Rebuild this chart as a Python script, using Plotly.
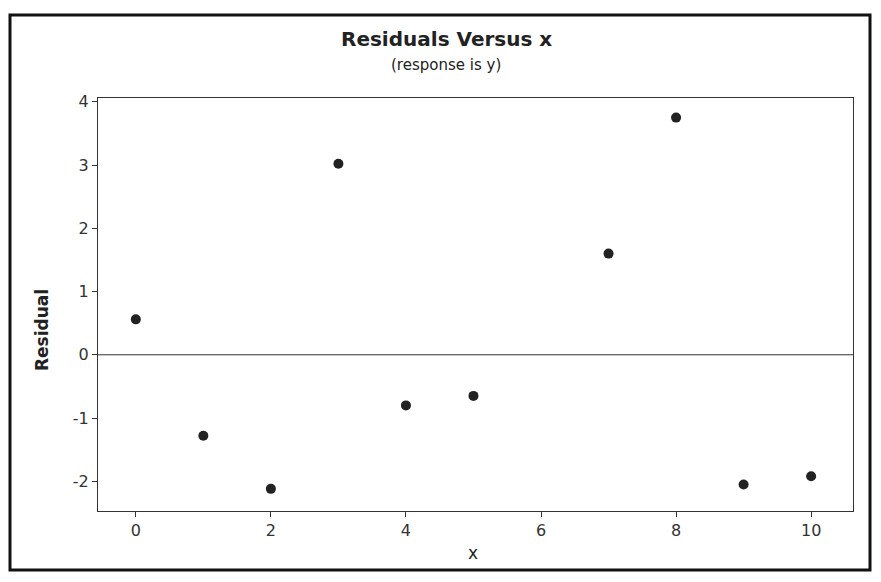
import plotly.graph_objects as go

x_vals = [0, 1, 2, 3, 4, 5, 7, 8, 9, 10]
residuals = [0.56, -1.28, -2.12, 3.02, -0.80, -0.65, 1.60, 3.75, -2.05, -1.92]
x_ticks = [0, 2, 4, 6, 8, 10]
y_ticks = [-2, -1, 0, 1, 2, 3, 4]
y_tick_text = ["-2", "-1", "0", "1", "2", "3", "4"]

OFF = 8  # default page body margin
W, H = 881 - 2 * OFF, 582 - 2 * OFF
# plot area in page pixels: left 98, right 853, top 98, bottom 511
L = 98 - OFF
T = 98 - OFF
R = W - (853 - OFF)
B = H - (511 - OFF)
pw, ph = W - L - R, H - T - B

def px_x(px):
    return (px - OFF - L) / pw

def px_y(py):
    return (H - B - (py - OFF)) / ph

font = "DejaVu Sans, Verdana, sans-serif"

fig = go.Figure()
fig.add_trace(go.Scatter(
    x=x_vals, y=residuals, mode="markers",
    marker=dict(color="#222222", size=10),
    showlegend=False,
))

fig.add_hline(y=0, line=dict(color="#333333", width=1))

# outer frame
fig.add_shape(type="rect", xref="paper", yref="paper",
              x0=px_x(10), x1=px_x(870),
              y0=px_y(570), y1=px_y(15),
              line=dict(color="#111111", width=3), layer="above")

def label(text, x, y, size, angle=0):
    fig.add_annotation(text=text, xref="paper", yref="paper",
                       x=px_x(x), y=px_y(y), showarrow=False, textangle=angle,
                       xanchor="center", yanchor="middle",
                       font=dict(family=font, size=size, color="#222222"))

label("<b>Residuals Versus x</b>", 446, 39, 20)
label("(response is y)", 446, 65, 15)
label("<b>Residual</b>", 42, 330, 17, -90)
label("x", 473, 553, 17)

fig.update_layout(
    width=W, height=H,
    margin=dict(l=L, r=R, t=T, b=B),
    paper_bgcolor="white", plot_bgcolor="white",
    font=dict(family=font, size=16, color="#333333"),
)
fig.update_xaxes(
    range=[-0.56, 10.62], tickvals=x_ticks, ticks="outside", ticklen=5,
    tickcolor="#333333", showgrid=False, zeroline=False,
    showline=True, linecolor="#333333", linewidth=1, mirror=True,
)
fig.update_yaxes(
    range=[-2.47, 4.06], tickvals=y_ticks, ticktext=y_tick_text,
    ticks="outside", ticklen=5,
    tickcolor="#333333", showgrid=False, zeroline=False,
    showline=True, linecolor="#333333", linewidth=1, mirror=True,
)

fig.write_html("out.html")
